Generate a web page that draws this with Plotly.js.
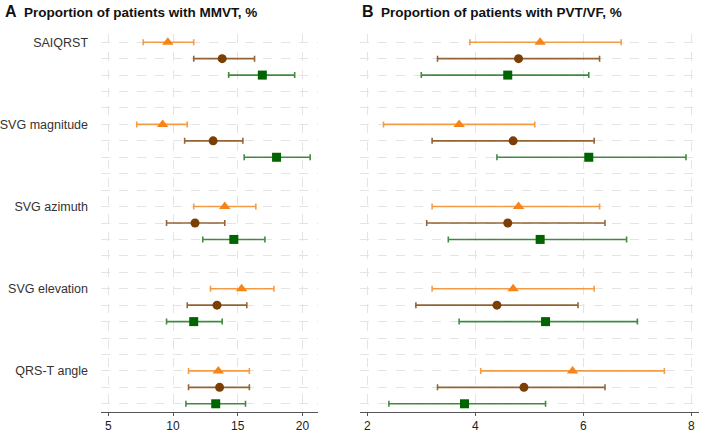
<!DOCTYPE html>
<html>
<head>
<meta charset="utf-8">
<script src="https://cdn.plot.ly/plotly-3.0.1.min.js"></script>
<style>html,body{margin:0;padding:0;background:#fff;}#chart{width:712px;height:433px;}</style>
</head>
<body>
<div id="chart"></div>
<script>
var groups = ['SAIQRST', 'SVG magnitude', 'SVG azimuth', 'SVG elevation', 'QRS-T angle'];

var mmvtOrange = [9.6, 9.2, 14.0, 15.3, 13.5];
var mmvtOrangeLo = [7.7, 7.2, 11.6, 12.9, 11.2];
var mmvtOrangeHi = [11.6, 11.1, 16.4, 17.8, 15.9];
var mmvtBrown = [13.8, 13.1, 11.7, 13.4, 13.6];
var mmvtBrownLo = [11.6, 10.9, 9.5, 11.1, 11.2];
var mmvtBrownHi = [16.3, 15.4, 14.0, 15.7, 15.9];
var mmvtGreen = [16.9, 18.0, 14.7, 11.6, 13.3];
var mmvtGreenLo = [14.3, 15.5, 12.3, 9.5, 11.0];
var mmvtGreenHi = [19.4, 20.6, 17.1, 13.8, 15.6];

var pvtOrange = [5.2, 3.7, 4.8, 4.7, 5.8];
var pvtOrangeLo = [3.9, 2.3, 3.2, 3.2, 4.1];
var pvtOrangeHi = [6.7, 5.1, 6.3, 6.2, 7.5];
var pvtBrown = [4.8, 4.7, 4.6, 4.4, 4.9];
var pvtBrownLo = [3.3, 3.2, 3.1, 2.9, 3.3];
var pvtBrownHi = [6.3, 6.2, 6.4, 5.9, 6.4];
var pvtGreen = [4.6, 6.1, 5.2, 5.3, 3.8];
var pvtGreenLo = [3.0, 4.4, 3.5, 3.7, 2.4];
var pvtGreenHi = [6.1, 7.9, 6.8, 7.0, 5.3];

var xTicksA = [5, 10, 15, 20];
var xTicksB = [2, 4, 6, 8];

var series = [
  {color: '#f7841a', bar: 'rgba(245,140,40,0.85)', symbol: 'triangle-up', size: 10},
  {color: '#7b3f06', bar: 'rgba(123,63,6,0.8)', symbol: 'circle', size: 9},
  {color: '#006400', bar: 'rgba(20,110,20,0.8)', symbol: 'square', size: 9}
];

function rowPos(s) { return groups.map(function (g, i) { return i * 5 + s; }); }
function diff(a, b) { return a.map(function (v, i) { return Math.abs(v - b[i]); }); }

var panels = [
  {xa: 'x', ya: 'y', data: [[mmvtOrange, mmvtOrangeLo, mmvtOrangeHi], [mmvtBrown, mmvtBrownLo, mmvtBrownHi], [mmvtGreen, mmvtGreenLo, mmvtGreenHi]]},
  {xa: 'x2', ya: 'y2', data: [[pvtOrange, pvtOrangeLo, pvtOrangeHi], [pvtBrown, pvtBrownLo, pvtBrownHi], [pvtGreen, pvtGreenLo, pvtGreenHi]]}
];

var traces = [];
panels.forEach(function (p) {
  p.data.forEach(function (d, s) {
    var st = series[s];
    traces.push({
      type: 'scatter', mode: 'markers',
      x: d[0], y: rowPos(s), xaxis: p.xa, yaxis: p.ya,
      marker: {color: st.color, symbol: st.symbol, size: st.size},
      error_x: {type: 'data', symmetric: false, array: diff(d[2], d[0]), arrayminus: diff(d[0], d[1]),
        color: st.bar, thickness: 1.6, width: 3},
      showlegend: false, hoverinfo: 'x'
    });
  });
});

var nRows = groups.length * 5 - 2;
var allRows = [];
var rowText = [];
for (var r = 0; r < nRows; r++) {
  allRows.push(r);
  rowText.push(r % 5 === 0 ? groups[r / 5] : '');
}

var gridCol = '#e4e4e4';
var yBase = {
  range: [nRows - 0.5, -0.5], tickvals: allRows, ticktext: rowText, showgrid: true, gridcolor: gridCol,
  griddash: 'dash', gridwidth: 1, zeroline: false, showline: false, ticks: '', fixedrange: true
};
var xBase = {
  showgrid: true, gridcolor: gridCol, griddash: 'dash', gridwidth: 1, zeroline: false,
  showline: true, linecolor: '#555', linewidth: 1, ticks: 'outside', ticklen: 3, tickcolor: '#555',
  tickfont: {size: 12, color: '#222'}
};

var layout = {
  width: 712, height: 433,
  margin: {l: 0, r: 0, t: 34, b: 21},
  paper_bgcolor: '#fff', plot_bgcolor: '#fff',
  font: {family: 'Liberation Sans, Arial, sans-serif', color: '#222'},
  xaxis: Object.assign({}, xBase, {domain: [0.1419, 0.4466], range: [4.44, 21.2], tickvals: xTicksA, anchor: 'y'}),
  yaxis: Object.assign({}, yBase, {domain: [0, 1], anchor: 'x', showticklabels: true,
    tickfont: {size: 12.5, color: '#333'}, ticklabelstandoff: 12}),
  xaxis2: Object.assign({}, xBase, {domain: [0.5056, 0.9817], range: [1.865, 8.14], tickvals: xTicksB, anchor: 'y2'}),
  yaxis2: Object.assign({}, yBase, {domain: [0, 1], anchor: 'x2', showticklabels: false}),
  annotations: [
    {xref: 'paper', yref: 'paper', x: 3 / 712, y: 1, yshift: 33, xanchor: 'left', yanchor: 'top', showarrow: false,
      text: '<b><span style="font-size:16px">A</span>  Proportion of patients with MMVT, %</b>', font: {size: 13.5, color: '#111'}},
    {xref: 'paper', yref: 'paper', x: 360 / 712, y: 1, yshift: 33, xanchor: 'left', yanchor: 'top', showarrow: false,
      text: '<b><span style="font-size:16px">B</span>  Proportion of patients with PVT/VF, %</b>', font: {size: 13.5, color: '#111'}}
  ]
};

Plotly.newPlot('chart', traces, layout, {displayModeBar: false, staticPlot: true});
</script>
</body>
</html>
